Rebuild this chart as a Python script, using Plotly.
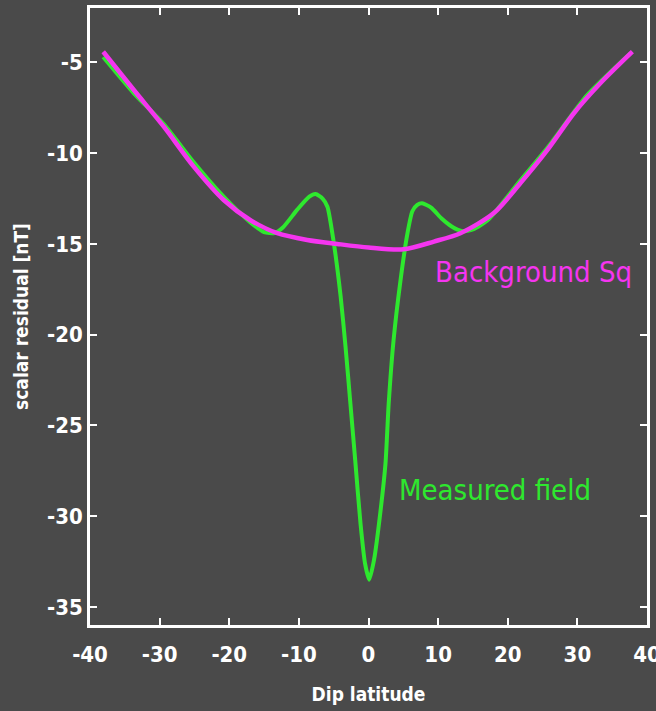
import plotly.graph_objects as go

# Background Sq (magenta)
bg_lat = [-38.1, -33.7, -29.4, -25.1, -20.8, -17.0, -13.1, -8.8, -4.5, 0.0, 5.0,
          9.4, 13.2, 18.0, 21.8, 25.7, 29.5, 33.3, 37.9]
bg_val = [-4.41, -6.52, -8.54, -10.74, -12.58, -13.68, -14.41, -14.78, -15.0, -15.2, -15.3,
          -14.87, -14.41, -13.3, -11.66, -9.82, -7.8, -6.15, -4.41]

# Measured field (green)
mf_lat = [-38.1, -33.7, -29.4, -25.1, -20.8, -17.0, -15.0, -13.5, -12.3, -10.2, -8.5, -7.6,
          -6.6, -5.9, -5.0, -4.0, -3.3, -2.6, -1.87, -1.15, -0.5, 0.1, 0.8, 1.7, 2.44,
          2.9, 3.6, 4.6, 5.6, 6.3, 7.0, 7.7, 9.0, 10.5, 12.0, 13.5, 15.0, 17.1, 21.4, 25.7,
          31.4, 37.6]
mf_val = [-4.7, -6.7, -8.4, -10.5, -12.4, -13.8, -14.35, -14.4, -14.1, -13.1, -12.4, -12.25,
          -12.5, -12.95, -14.9, -17.9, -20.66, -23.8, -27.1, -30.4, -32.6, -33.5, -32.4, -29.8, -27.1,
          -23.8, -20.3, -17.0, -14.4, -13.2, -12.85, -12.76, -13.0, -13.6, -14.05, -14.3, -14.2, -13.7, -11.7, -9.7,
          -6.8, -4.5]

x_ticks = [-40, -30, -20, -10, 0, 10, 20, 30, 40]
y_ticks = [-5, -10, -15, -20, -25, -30, -35]

GREEN = "#2ee82e"
MAGENTA = "#f535f0"
BG = "#4a4a4a"
FONT = "DejaVu Sans Condensed, Liberation Sans Narrow, Arial Narrow, Liberation Sans, sans-serif"

fig = go.Figure()
fig.add_trace(go.Scatter(x=mf_lat, y=mf_val, mode="lines", name="Measured field",
                         line=dict(color=GREEN, width=4, shape="spline", smoothing=0.6)))
fig.add_trace(go.Scatter(x=bg_lat, y=bg_val, mode="lines", name="Background Sq",
                         line=dict(color=MAGENTA, width=4.5, shape="spline", smoothing=0.8)))

fig.add_annotation(x=23.7, y=-16.55, text="Background Sq", showarrow=False,
                   font=dict(family=FONT, size=29, color=MAGENTA))
fig.add_annotation(x=18.1, y=-28.56, text="Measured field", showarrow=False,
                   font=dict(family=FONT, size=29, color=GREEN))

axis_common = dict(showgrid=False, zeroline=False, showline=True, linecolor="white", linewidth=2.5,
                   mirror="ticks", ticks="inside", ticklen=7, tickwidth=2, tickcolor="white",
                   ticklabeloverflow="allow", automargin=False,
                   tickfont=dict(family=FONT, size=22, color="white", weight="bold"))

fig.update_xaxes(range=[-40, 40], tickvals=x_ticks, ticktext=[str(v) for v in x_ticks],
                 title=dict(text="<b>Dip latitude</b>", font=dict(family=FONT, size=19, color="white"),
                            standoff=22),
                 ticklabelstandoff=8, **axis_common)
fig.update_yaxes(range=[-36, -2], tickvals=y_ticks, ticktext=[str(v) for v in y_ticks],
                 title=dict(text="<b>scalar residual [nT]</b>", font=dict(family=FONT, size=19, color="white"),
                            standoff=14),
                 ticklabelstandoff=0, **axis_common)

fig.update_layout(width=656, height=711, paper_bgcolor=BG, plot_bgcolor=BG,
                  showlegend=False, margin=dict(l=90, r=9, t=8, b=86),
                  font=dict(family=FONT, color="white"))

fig.write_html("out.html", config={"displayModeBar": False},
               post_script="document.body.style.margin='0';")
